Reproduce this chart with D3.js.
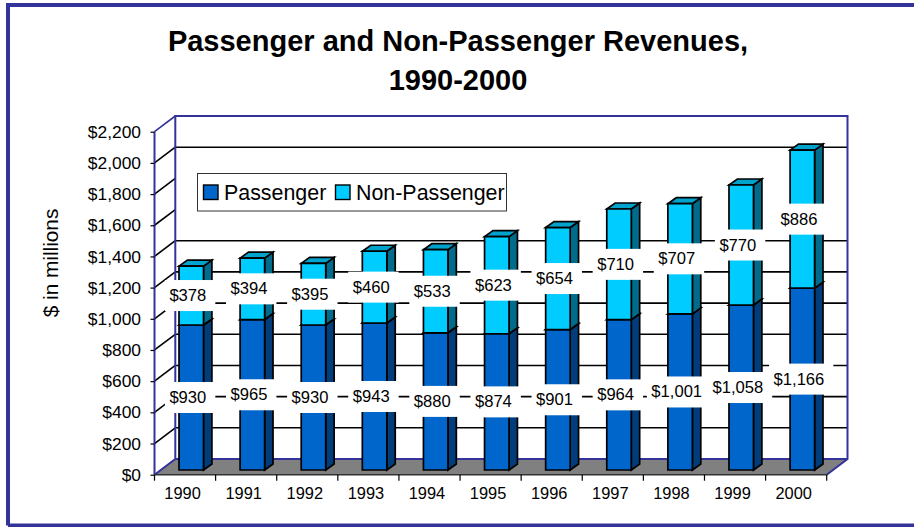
<!DOCTYPE html>
<html><head><meta charset="utf-8">
<script src="https://cdn.jsdelivr.net/npm/d3@7"></script>
<style>html,body{margin:0;padding:0;background:#fff}svg{display:block}text{font-family:"Liberation Sans",Arial,sans-serif;fill:#000}</style>
</head><body><svg id="c" width="914" height="527"></svg>
<script>
const years=["1990","1991","1992","1993","1994","1995","1996","1997","1998","1999","2000"];
const passenger=[930,965,930,943,880,874,901,964,1001,1058,1166];
const nonPassenger=[378,394,395,460,533,623,654,710,707,770,886];
const yTicks=[0,200,400,600,800,1000,1200,1400,1600,1800,2000,2200];
const gridTicks=[200,400,600,800,1000,1200,1400,2000];
const titleLines=["Passenger and Non-Passenger Revenues,","1990-2000"];
const legendItems=["Passenger","Non-Passenger"];
const colors={p:{front:"#0066CC",side:"#003D7A",top:"#0052A3"},n:{front:"#00CCFF",side:"#006B8A",top:"#00A3CC"}};
const navy="#333399";

const svg=d3.select("#c");
const L=154.5,R=826.7,B=474.7,T=131.7,DX=20.8,DY=-15.7;
const x=d3.scaleBand().domain(years).range([L,R]);
const y=d3.scaleLinear().domain([0,2200]).range([B,T]);
const barW=24.5,barDX=6.2,barDY=-4.7,bx=8.4,by=-6;
const barX=d=>x(d)+x.bandwidth()/2-barW/2+barDX;
const vy=v=>y(v)+barDY;

// frame
svg.append("path").attr("d","M8,525.5V5H914M8,525.5H914").attr("fill","none").attr("stroke",navy).attr("stroke-width",4);

// title
svg.append("g").selectAll("text").data(titleLines).join("text")
 .attr("x",458).attr("y",(d,i)=>51+i*39).attr("text-anchor","middle")
 .attr("font-size",29).attr("font-weight","bold").text(d=>d);

// floor
svg.append("path").attr("d",`M${L},${B}L${L+DX},${B+DY}H${R+DX}L${R},${B}Z`).attr("fill","#808080");

// gridlines
const grid=svg.append("g");
grid.selectAll("line.g").data(gridTicks).join("line").attr("class","g")
 .attr("x1",L+DX).attr("x2",R+DX).attr("y1",d=>y(d)+DY).attr("y2",d=>y(d)+DY)
 .attr("stroke","#000").attr("stroke-width",1.6);
grid.selectAll("line.d").data(yTicks.slice(1)).join("line").attr("class","d")
 .attr("x1",L).attr("x2",L+DX).attr("y1",d=>y(d)).attr("y2",d=>y(d)+DY)
 .attr("stroke",d=>d===2200?navy:"#000").attr("stroke-width",1.6);

// walls
svg.append("path").attr("d",`M${L},${B}L${L+DX},${B+DY}V${T+DY}H${R+DX}V${B+DY}L${R},${B}M${L+DX},${B+DY}H${R+DX}`)
 .attr("fill","none").attr("stroke",navy).attr("stroke-width",2);
svg.append("line").attr("x1",L).attr("x2",L).attr("y1",T).attr("y2",B).attr("stroke",navy).attr("stroke-width",2);
svg.append("line").attr("x1",L).attr("x2",R).attr("y1",B).attr("y2",B).attr("stroke","#333").attr("stroke-width",1.6);

// axes
const ax=svg.append("g").attr("transform",`translate(0,${B})`).call(d3.axisBottom(x).tickSize(0).tickPadding(13));
ax.select(".domain").remove();
ax.selectAll("text").attr("font-size",16.4).attr("font-family",null).attr("dx",-2.5);
svg.append("g").selectAll("line").data(d3.range(years.length+1)).join("line")
 .attr("x1",d=>L+d*x.bandwidth()).attr("x2",d=>L+d*x.bandwidth()).attr("y1",B).attr("y2",B+6).attr("stroke","#000").attr("stroke-width",1.2);
const ay=svg.append("g").attr("transform",`translate(${L},0)`)
 .call(d3.axisLeft(y).tickValues(yTicks).tickSize(4).tickPadding(9.5).tickFormat(d=>"$"+d3.format(",")(d)));
ay.select(".domain").remove();
ay.selectAll("line").attr("stroke","#000").attr("stroke-width",1.2);
ay.selectAll("text").attr("font-size",17.4).attr("font-family",null);

svg.append("text").attr("transform","translate(58,263) rotate(-90)").attr("text-anchor","middle").attr("font-size",20.8).text("$ in millions");

// bars
function seg(gSel,year,v0,v1,c){
 const X=barX(year),y0=vy(v0),y1=vy(v1);
 const st={stroke:"#000","stroke-width":1.7,"stroke-linejoin":"miter"};
 const add=(d,f)=>{const p=gSel.append("path").attr("d",d).attr("fill",f);Object.entries(st).forEach(([k,w])=>p.attr(k,w));};
 add(`M${X+barW},${y1}l${bx},${by}V${y0+by}L${X+barW},${y0}Z`,c.side);
 add(`M${X},${y1}l${bx},${by}h${barW}l${-bx},${-by}Z`,c.top);
 add(`M${X},${y1}h${barW}V${y0}H${X}Z`,c.front);
}
const bars=svg.append("g");
years.forEach((yr,i)=>{
 const g=bars.append("g");
 seg(g,yr,0,passenger[i],colors.p);
 seg(g,yr,passenger[i],passenger[i]+nonPassenger[i],colors.n);
});

// labels
const labels=svg.append("g");
function label(yr,mid,val){
 const cx=x(yr)+x.bandwidth()/2+2.8, cy=vy(mid);
 const txt="$"+d3.format(",")(val);
 const g=labels.append("g");
 const r=g.append("rect").attr("fill","#fff");
 const t=g.append("text").attr("x",cx).attr("y",cy+5.5).attr("text-anchor","middle").attr("font-size",16.6).text(txt);
 const w=t.node().getComputedTextLength();
 r.attr("x",cx-w/2-4.5).attr("y",cy-15.5).attr("width",w+13.5).attr("height",31);
}
years.forEach((yr,i)=>{
 label(yr,passenger[i]/2,passenger[i]);
 label(yr,passenger[i]+nonPassenger[i]/2,nonPassenger[i]);
});

// legend
const lg=svg.append("g").attr("transform","translate(197.5,173.5)");
lg.append("rect").attr("width",309).attr("height",37.5).attr("fill","#fff").attr("stroke","#333").attr("stroke-width",1);
const lgX=[6,138],lgC=[colors.p.front,colors.n.front];
legendItems.forEach((t,i)=>{
 lg.append("rect").attr("x",lgX[i]).attr("y",11.5).attr("width",14.5).attr("height",14.5).attr("fill",lgC[i]).attr("stroke","#000").attr("stroke-width",1.4);
 lg.append("text").attr("x",lgX[i]+20.5).attr("y",26.5).attr("font-size",21.4).text(t);
});
</script></body></html>
